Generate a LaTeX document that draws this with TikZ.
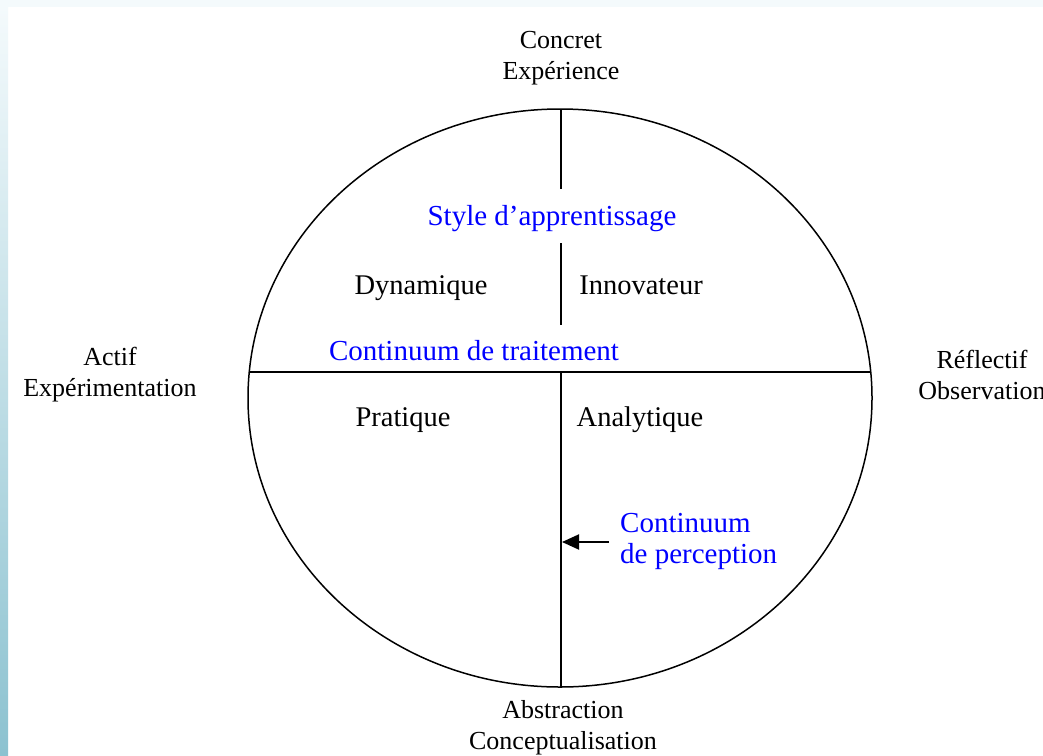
\documentclass[tikz,border=0pt]{standalone}
\usepackage{fontspec}
\setmainfont{Liberation Serif}
\usetikzlibrary{arrows.meta}

\definecolor{framelight}{HTML}{F4FAFC}
\definecolor{framemid}{HTML}{E2EFF3}
\definecolor{framedark}{HTML}{8CC2D0}
\definecolor{axisblue}{HTML}{0000FF}

\tikzset{
  pole/.style={font=\fontsize{26}{31}\selectfont, align=center, inner sep=0pt},
  quadrant/.style={font=\fontsize{28.5}{33}\selectfont, inner sep=0pt, anchor=base},
  axislabel/.style={font=\fontsize{29}{31}\selectfont, text=axisblue, inner sep=0pt},
}

\begin{document}
\begin{tikzpicture}[x=1pt, y=-1pt, line join=round, >={Triangle[length=17pt,width=15pt]}]
  \useasboundingbox (0,0) rectangle (1043,755);
  % --- frame ---
  \fill[framelight] (0,0) rectangle (1043,755);
  \fill[white] (8,7) rectangle (1043,755);
  \shade[top color=framelight, middle color=framemid, bottom color=framedark] (0,7) rectangle (8,755);
  % --- circle and axes ---
  \coordinate (top) at (561,109);
  \coordinate (bot) at (561,687);
  \coordinate (mid) at (561,372);
  \coordinate (west) at (249,372);
  \coordinate (east) at (871,372);
  \draw[line width=1.5pt] (560,398) ellipse [x radius=312, y radius=289];
  \draw[line width=2pt] (west) -- (east);
  \draw[line width=2pt] (top) -- (561,189);
  \draw[line width=2pt] (561,243) -- (561,325);
  \draw[line width=2pt] (mid) -- (bot);
  % --- poles ---
  \node[pole] (concret) at (561,58) {Concret\\Expérience};
  \node[pole] (actif) at (110,375) {Actif\\Expérimentation};
  \node[pole] (reflectif) at (982,375) {Réflectif\\Observation};
  \node[pole] (abstraction) at (563,728) {Abstraction\\Conceptualisation};
  % --- quadrants ---
  \node[quadrant] (dynamique) at (421,294) {Dynamique};
  \node[quadrant] (innovateur) at (641,294) {Innovateur};
  \node[quadrant] (pratique) at (403,426) {Pratique};
  \node[quadrant] (analytique) at (640,426) {Analytique};
  % --- blue labels ---
  \node[axislabel, anchor=base] (style) at (552,225) {Style d’apprentissage};
  \node[axislabel, anchor=base] (traitement) at (474,360) {Continuum de traitement};
  \node[axislabel, align=left, anchor=west] (perception) at (620,541) {Continuum\\de perception};
  % --- arrow ---
  \coordinate (tail) at (609,542);
  \coordinate (hit) at (562,542);
  \draw[line width=2pt,->] (tail) -- (hit);
\end{tikzpicture}
\end{document}
